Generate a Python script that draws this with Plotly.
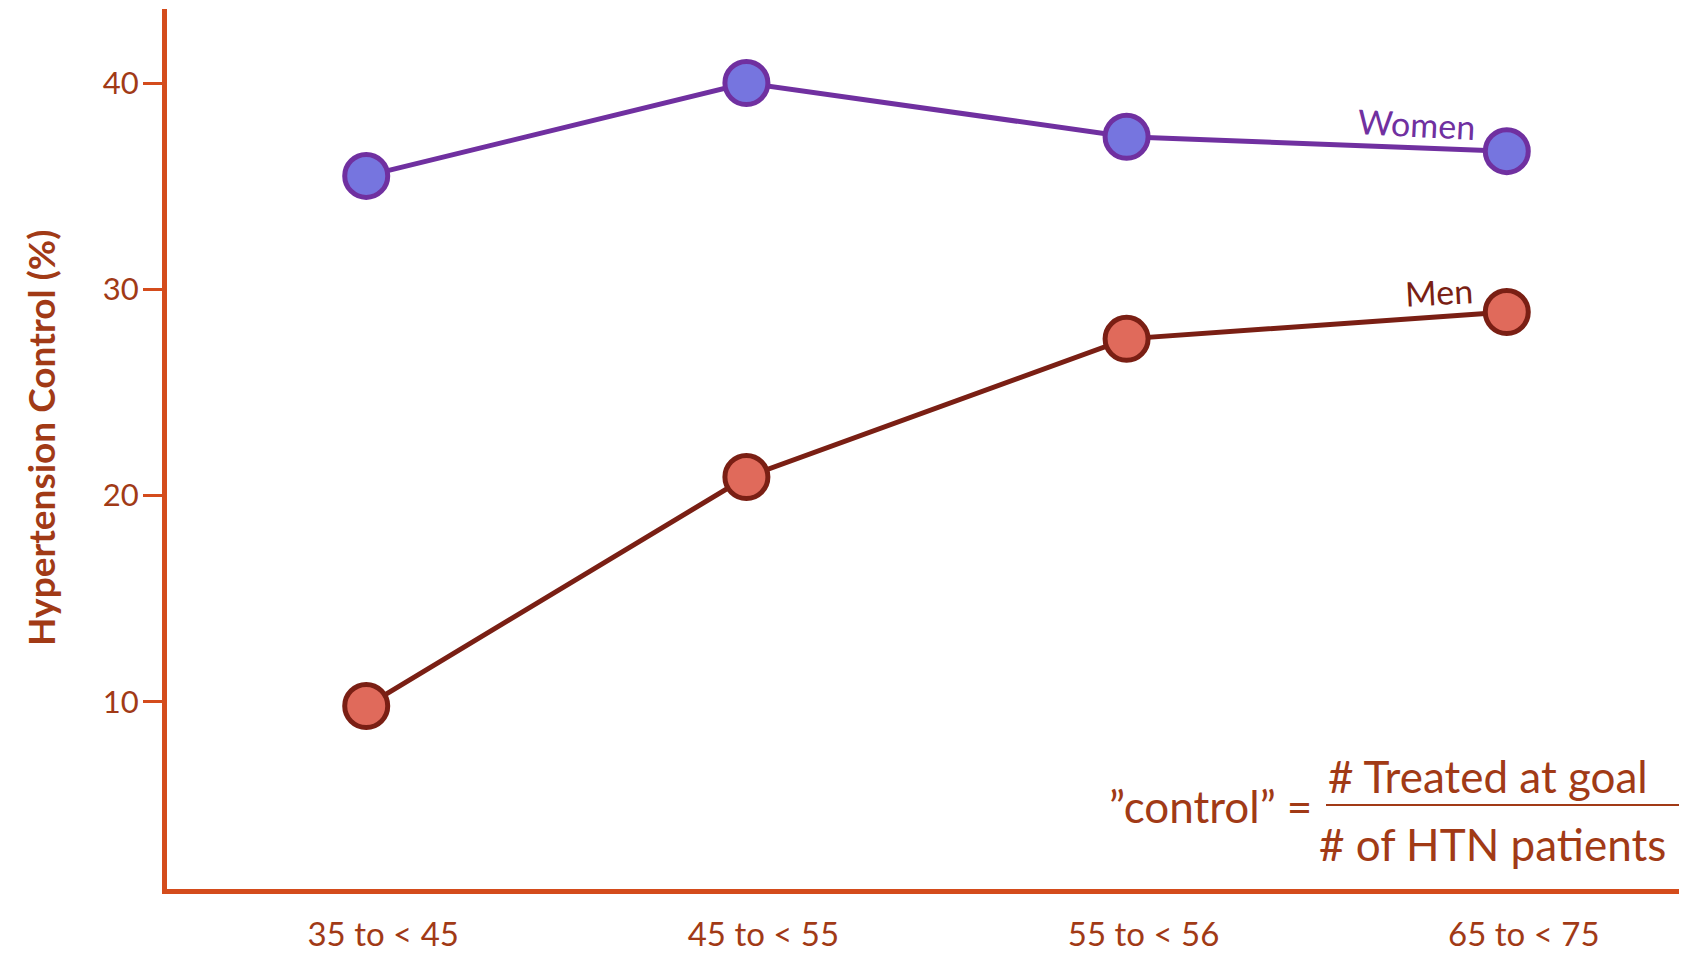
import plotly.graph_objects as go

# Age groups and hypertension control rates (%)
age_groups = ["35 to < 45", "45 to < 55", "55 to < 56", "65 to < 75"]
women_control = [35.5, 40.0, 37.4, 36.7]
men_control = [9.8, 20.9, 27.6, 28.9]
y_ticks = [10, 20, 30, 40]

AXIS_ORANGE = "#D44C1C"
TEXT_BROWN = "#A13A16"
WOMEN_LINE = "#7030A0"
WOMEN_FILL = "#7675DF"
MEN_LINE = "#7A1F14"
MEN_FILL = "#E06A5B"
FONT = "Lato, 'Open Sans', sans-serif"

W, H = 1693, 956
L, R, T, B = 167, 14, 9, 67
plot_w = W - L - R
plot_h = H - T - B


def px_x(px):
    return (px - L) / plot_w


def px_y(py):
    return (H - B - py) / plot_h


fig = go.Figure()

fig.add_trace(go.Scatter(
    x=age_groups, y=women_control, mode="lines+markers", name="Women",
    line=dict(color=WOMEN_LINE, width=5),
    marker=dict(size=43, color=WOMEN_FILL, line=dict(color=WOMEN_LINE, width=5)),
    cliponaxis=False,
))
fig.add_trace(go.Scatter(
    x=age_groups, y=men_control, mode="lines+markers", name="Men",
    line=dict(color=MEN_LINE, width=5),
    marker=dict(size=43, color=MEN_FILL, line=dict(color=MEN_LINE, width=5)),
    cliponaxis=False,
))

# Series labels next to the last point of each line
fig.add_annotation(x=age_groups[-1], y=women_control[-1], text="Women",
                   showarrow=False, xshift=-90, yshift=28, textangle=3,
                   font=dict(family=FONT, size=34, color=WOMEN_LINE))
fig.add_annotation(x=age_groups[-1], y=men_control[-1], text="Men",
                   showarrow=False, xshift=-68, yshift=21, textangle=-3,
                   font=dict(family=FONT, size=34, color=MEN_LINE))

# Y axis title
fig.add_annotation(xref="paper", yref="paper", x=px_x(40), y=px_y(438),
                   xanchor="center", yanchor="middle", showarrow=False,
                   textangle=-90, text="Hypertension Control (%)",
                   font=dict(family=FONT, size=37, weight="bold",
                             color=TEXT_BROWN))

# Definition of "control" as a fraction
formula_font = dict(family=FONT, size=44, color=TEXT_BROWN)
fig.add_annotation(xref="paper", yref="paper", x=px_x(1314), y=px_y(806),
                   xanchor="right", yanchor="middle", showarrow=False,
                   text="\u201dcontrol\u201d =", font=formula_font)
fig.add_annotation(xref="paper", yref="paper", x=px_x(1488), y=px_y(776),
                   xanchor="center", yanchor="middle", showarrow=False,
                   text="# Treated at goal", font=formula_font)
fig.add_annotation(xref="paper", yref="paper", x=px_x(1492), y=px_y(844),
                   xanchor="center", yanchor="middle", showarrow=False,
                   text="# of HTN patients", font=formula_font)
fig.add_shape(type="line", xref="paper", yref="paper",
              x0=px_x(1326), x1=px_x(1679), y0=px_y(805), y1=px_y(805),
              line=dict(color=TEXT_BROWN, width=2))

fig.update_layout(
    width=W, height=H,
    margin=dict(l=L, r=R, t=T, b=B, autoexpand=False),
    paper_bgcolor="white", plot_bgcolor="white",
    showlegend=False,
    font=dict(family=FONT, color=TEXT_BROWN),
    xaxis=dict(
        type="category", range=[-0.524, 3.453],
        showgrid=False, zeroline=False,
        showline=True, linecolor=AXIS_ORANGE, linewidth=5,
        ticks="", ticklabelshift=17, ticklabelstandoff=12,
        tickfont=dict(family=FONT, size=33, color=TEXT_BROWN),
    ),
    yaxis=dict(
        range=[0.93, 43.59],
        tickvals=y_ticks, ticktext=[str(v) for v in y_ticks],
        showgrid=False, zeroline=False,
        showline=True, linecolor=AXIS_ORANGE, linewidth=5,
        ticks="outside", ticklen=19, tickwidth=2.5, tickcolor=AXIS_ORANGE,
        ticklabelstandoff=-2,
        tickfont=dict(family=FONT, size=31, color=TEXT_BROWN),
    ),
)

fig.write_html("out.html")
